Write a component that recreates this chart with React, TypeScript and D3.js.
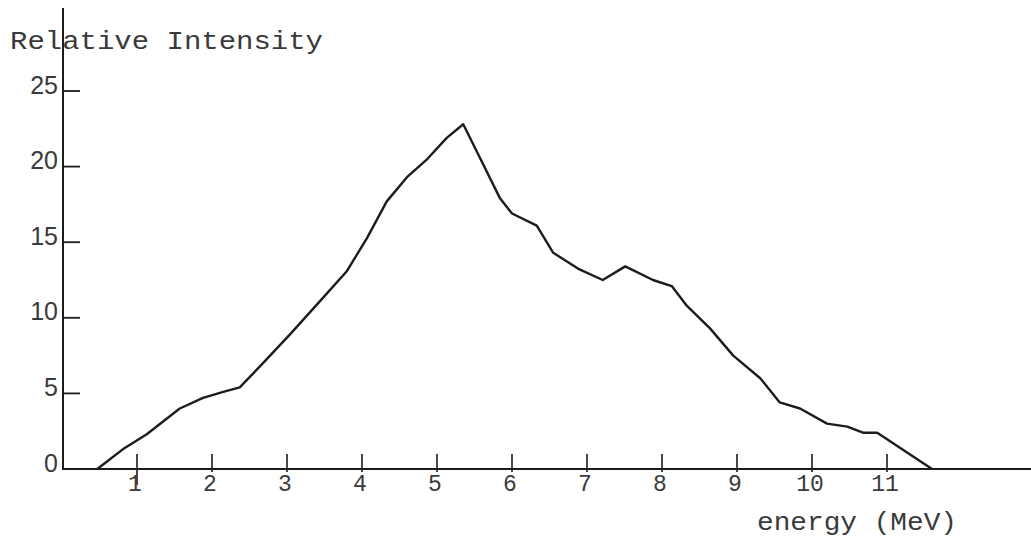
import React from "react";
import * as d3 from "d3";

const energy = [0.47, 0.81, 1.13, 1.57, 1.88, 2.15, 2.37, 2.68, 3.04, 3.44, 3.8, 4.07, 4.33, 4.6, 4.87, 5.13, 5.35, 5.61, 5.84, 6.0, 6.33, 6.55, 6.9, 7.21, 7.51, 7.88, 8.13, 8.33, 8.64, 8.95, 9.31, 9.57, 9.84, 10.2, 10.47, 10.68, 10.87, 11.6];
const intensity = [0, 1.3, 2.3, 4.0, 4.7, 5.1, 5.4, 7.0, 8.9, 11.1, 13.1, 15.3, 17.7, 19.3, 20.5, 21.9, 22.8, 20.2, 17.9, 16.9, 16.1, 14.3, 13.2, 12.5, 13.4, 12.5, 12.1, 10.8, 9.3, 7.5, 6.0, 4.4, 4.0, 3.0, 2.8, 2.4, 2.4, 0];
const xTicks = [1, 2, 3, 4, 5, 6, 7, 8, 9, 10, 11];
const yTicks = [0, 5, 10, 15, 20, 25];
const yTitle = "Relative Intensity";
const xTitle = "energy (MeV)";

const W = 1031;
const H = 540;

export default function App() {
  const x = d3.scaleLinear().domain([0, 11]).range([62, 887]);
  const y = d3.scaleLinear().domain([0, 25]).range([469, 91]);
  const pts: [number, number][] = energy.map((e, i) => [e, intensity[i]]);
  const line = d3
    .line<[number, number]>()
    .x((d) => x(d[0]))
    .y((d) => y(d[1]))
    .curve(d3.curveLinear);

  const ink = "#1c1c1c";
  const textInk = "#3a3a3a";
  const mono = "'Liberation Mono', 'DejaVu Sans Mono', monospace";
  const sans = "'Liberation Sans', 'DejaVu Sans', sans-serif";

  return (
    <svg
      width={W}
      height={H}
      style={{ position: "absolute", left: 0, top: 0, background: "#fff" }}
    >
      {/* y axis */}
      <line x1={63} x2={63} y1={8} y2={470} stroke={ink} strokeWidth={2} />
      {/* x axis */}
      <line x1={64} x2={W} y1={y(0)} y2={y(0)} stroke={ink} strokeWidth={1.8} />

      {yTicks.map((t) => (
        <g key={"y" + t}>
          <line x1={64} x2={80} y1={y(t)} y2={y(t)} stroke={ink} strokeWidth={1.8} />
          <text
            x={58}
            y={y(t) - 4}
            textAnchor="end"
            dominantBaseline="middle"
            fontFamily={sans}
            fontSize={25}
            fill={textInk}
          >
            {t}
          </text>
        </g>
      ))}

      {xTicks.map((t) => (
        <g key={"x" + t}>
          <line
            x1={x(t)}
            x2={x(t)}
            y1={y(0) - 15}
            y2={y(0) + (t === 1 ? 16 : 3)}
            stroke={ink}
            strokeWidth={1.6}
          />
          <text
            x={x(t) - 2}
            y={491}
            textAnchor="middle"
            fontFamily={mono}
            fontSize={23}
            fill={textInk}
          >
            {t}
          </text>
        </g>
      ))}

      <text
        x={10}
        y={49}
        fontFamily={mono}
        fontSize={25}
        textLength={313}
        lengthAdjust="spacingAndGlyphs"
        fill={textInk}
      >
        {yTitle}
      </text>
      <text
        x={757}
        y={530}
        fontFamily={mono}
        fontSize={25}
        textLength={200}
        lengthAdjust="spacingAndGlyphs"
        fill={textInk}
      >
        {xTitle}
      </text>

      <path
        d={line(pts) || ""}
        fill="none"
        stroke={ink}
        strokeWidth={2.4}
        strokeLinejoin="round"
      />
    </svg>
  );
}
